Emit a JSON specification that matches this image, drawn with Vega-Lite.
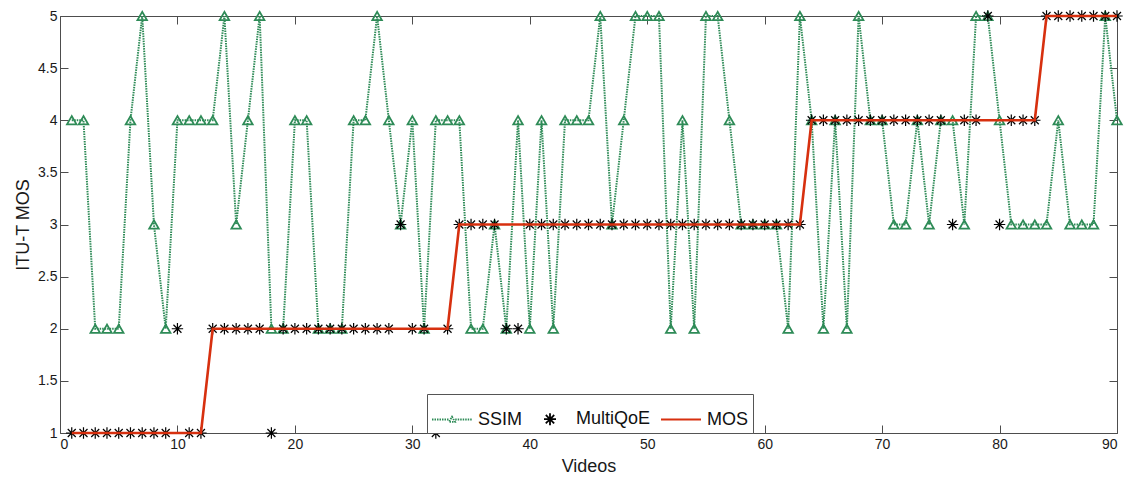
{
  "$schema": "https://vega.github.io/schema/vega-lite/v6.json",
  "width": 1057,
  "height": 417,
  "autosize": {"type": "none"},
  "padding": {"left": 60, "top": 16, "right": 7, "bottom": 46},
  "background": "white",
  "data": {"values": [
    {"v":1,"ssim":4,"mq":1,"mos":1},{"v":2,"ssim":4,"mq":1,"mos":1},{"v":3,"ssim":2,"mq":1,"mos":1},{"v":4,"ssim":2,"mq":1,"mos":1},{"v":5,"ssim":2,"mq":1,"mos":1},
    {"v":6,"ssim":4,"mq":1,"mos":1},{"v":7,"ssim":5,"mq":1,"mos":1},{"v":8,"ssim":3,"mq":1,"mos":1},{"v":9,"ssim":2,"mq":1,"mos":1},{"v":10,"ssim":4,"mq":2,"mos":1},
    {"v":11,"ssim":4,"mq":1,"mos":1},{"v":12,"ssim":4,"mq":1,"mos":1},{"v":13,"ssim":4,"mq":2,"mos":2},{"v":14,"ssim":5,"mq":2,"mos":2},{"v":15,"ssim":3,"mq":2,"mos":2},
    {"v":16,"ssim":4,"mq":2,"mos":2},{"v":17,"ssim":5,"mq":2,"mos":2},{"v":18,"ssim":2,"mq":1,"mos":2},{"v":19,"ssim":2,"mq":2,"mos":2},{"v":20,"ssim":4,"mq":2,"mos":2},
    {"v":21,"ssim":4,"mq":2,"mos":2},{"v":22,"ssim":2,"mq":2,"mos":2},{"v":23,"ssim":2,"mq":2,"mos":2},{"v":24,"ssim":2,"mq":2,"mos":2},{"v":25,"ssim":4,"mq":2,"mos":2},
    {"v":26,"ssim":4,"mq":2,"mos":2},{"v":27,"ssim":5,"mq":2,"mos":2},{"v":28,"ssim":4,"mq":2,"mos":2},{"v":29,"ssim":3,"mq":3,"mos":2},{"v":30,"ssim":4,"mq":2,"mos":2},
    {"v":31,"ssim":2,"mq":2,"mos":2},{"v":32,"ssim":4,"mq":1,"mos":2},{"v":33,"ssim":4,"mq":2,"mos":2},{"v":34,"ssim":4,"mq":3,"mos":3},{"v":35,"ssim":2,"mq":3,"mos":3},
    {"v":36,"ssim":2,"mq":3,"mos":3},{"v":37,"ssim":3,"mq":3,"mos":3},{"v":38,"ssim":2,"mq":2,"mos":3},{"v":39,"ssim":4,"mq":2,"mos":3},{"v":40,"ssim":2,"mq":3,"mos":3},
    {"v":41,"ssim":4,"mq":3,"mos":3},{"v":42,"ssim":2,"mq":3,"mos":3},{"v":43,"ssim":4,"mq":3,"mos":3},{"v":44,"ssim":4,"mq":3,"mos":3},{"v":45,"ssim":4,"mq":3,"mos":3},
    {"v":46,"ssim":5,"mq":3,"mos":3},{"v":47,"ssim":3,"mq":3,"mos":3},{"v":48,"ssim":4,"mq":3,"mos":3},{"v":49,"ssim":5,"mq":3,"mos":3},{"v":50,"ssim":5,"mq":3,"mos":3},
    {"v":51,"ssim":5,"mq":3,"mos":3},{"v":52,"ssim":2,"mq":3,"mos":3},{"v":53,"ssim":4,"mq":3,"mos":3},{"v":54,"ssim":2,"mq":3,"mos":3},{"v":55,"ssim":5,"mq":3,"mos":3},
    {"v":56,"ssim":5,"mq":3,"mos":3},{"v":57,"ssim":4,"mq":3,"mos":3},{"v":58,"ssim":3,"mq":3,"mos":3},{"v":59,"ssim":3,"mq":3,"mos":3},{"v":60,"ssim":3,"mq":3,"mos":3},
    {"v":61,"ssim":3,"mq":3,"mos":3},{"v":62,"ssim":2,"mq":3,"mos":3},{"v":63,"ssim":5,"mq":3,"mos":3},{"v":64,"ssim":4,"mq":4,"mos":4},{"v":65,"ssim":2,"mq":4,"mos":4},
    {"v":66,"ssim":4,"mq":4,"mos":4},{"v":67,"ssim":2,"mq":4,"mos":4},{"v":68,"ssim":5,"mq":4,"mos":4},{"v":69,"ssim":4,"mq":4,"mos":4},{"v":70,"ssim":4,"mq":4,"mos":4},
    {"v":71,"ssim":3,"mq":4,"mos":4},{"v":72,"ssim":3,"mq":4,"mos":4},{"v":73,"ssim":4,"mq":4,"mos":4},{"v":74,"ssim":3,"mq":4,"mos":4},{"v":75,"ssim":4,"mq":4,"mos":4},
    {"v":76,"ssim":4,"mq":3,"mos":4},{"v":77,"ssim":3,"mq":4,"mos":4},{"v":78,"ssim":5,"mq":4,"mos":4},{"v":79,"ssim":5,"mq":5,"mos":4},{"v":80,"ssim":4,"mq":3,"mos":4},
    {"v":81,"ssim":3,"mq":4,"mos":4},{"v":82,"ssim":3,"mq":4,"mos":4},{"v":83,"ssim":3,"mq":4,"mos":4},{"v":84,"ssim":3,"mq":5,"mos":5},{"v":85,"ssim":4,"mq":5,"mos":5},
    {"v":86,"ssim":3,"mq":5,"mos":5},{"v":87,"ssim":3,"mq":5,"mos":5},{"v":88,"ssim":3,"mq":5,"mos":5},{"v":89,"ssim":5,"mq":5,"mos":5},{"v":90,"ssim":4,"mq":5,"mos":5}
  ]},
  "resolve": {"scale": {"x": "independent", "y": "independent"}},
  "layer": [
    {
      "mark": {"type": "line", "color": "#2e8b57", "strokeWidth": 2, "strokeDash": [1.5, 1]},
      "encoding": {
        "x": {"field": "v", "type": "quantitative", "scale": {"domain": [0, 90], "nice": false, "zero": false},
          "axis": {"orient": "bottom", "values": [0,10,20,30,40,50,60,70,80,90], "title": "Videos", "labelPadding": 12, "titlePadding": 6}},
        "y": {"field": "ssim", "type": "quantitative", "scale": {"domain": [1, 5], "nice": false, "zero": false},
          "axis": {"orient": "left", "values": [1,1.5,2,2.5,3,3.5,4,4.5,5], "format": "~g", "title": "ITU-T MOS", "labelPadding": 11, "titlePadding": 5}}
      }
    },
    {
      "mark": {"type": "point", "shape": "triangle-up", "filled": false, "color": "#2e8b57", "strokeWidth": 1.8, "size": 90, "opacity": 1},
      "encoding": {
        "x": {"field": "v", "type": "quantitative", "scale": {"domain": [0, 90], "nice": false, "zero": false}, "axis": null},
        "y": {"field": "ssim", "type": "quantitative", "scale": {"domain": [1, 5], "nice": false, "zero": false}, "axis": null}
      }
    },
    {
      "mark": {"type": "point", "shape": "M0,-1V1M-1,0H1M-0.7,-0.7L0.7,0.7M-0.7,0.7L0.7,-0.7", "filled": false, "color": "#000000", "strokeWidth": 1.2, "size": 130, "opacity": 1},
      "encoding": {
        "x": {"field": "v", "type": "quantitative", "scale": {"domain": [0, 90], "nice": false, "zero": false}, "axis": null},
        "y": {"field": "mq", "type": "quantitative", "scale": {"domain": [1, 5], "nice": false, "zero": false}, "axis": null}
      }
    },
    {
      "mark": {"type": "line", "color": "#d7300f", "strokeWidth": 2.6},
      "encoding": {
        "x": {"field": "v", "type": "quantitative", "scale": {"domain": [0, 90], "nice": false, "zero": false},
          "axis": {"orient": "top", "values": [0,10,20,30,40,50,60,70,80,90], "labels": false, "title": null}},
        "y": {"field": "mos", "type": "quantitative", "scale": {"domain": [1, 5], "nice": false, "zero": false},
          "axis": {"orient": "right", "values": [1,1.5,2,2.5,3,3.5,4,4.5,5], "labels": false, "title": null}}
      }
    },
    {
      "transform": [{"filter": "datum.v < 0"}],
      "mark": {"type": "point", "filled": false, "strokeWidth": 1.8, "opacity": 1},
      "encoding": {
        "x": {"field": "v", "type": "quantitative", "scale": {"domain": [0, 90], "nice": false, "zero": false}, "axis": null},
        "y": {"field": "mos", "type": "quantitative", "scale": {"domain": [1, 5], "nice": false, "zero": false}, "axis": null},
        "color": {"field": "series", "type": "nominal",
          "scale": {"domain": ["SSIM", "MultiQoE", "MOS"], "range": ["#2e8b57", "#000000", "#d7300f"]},
          "legend": {"orient": "none", "legendX": 367, "legendY": 378, "direction": "horizontal", "title": null,
            "fillColor": "white", "strokeColor": "#555555", "padding": 4, "symbolSize": 1600, "symbolStrokeWidth": 1.8,
            "labelFont": "Liberation Sans", "labelFontSize": 18, "labelColor": "#111111", "labelOffset": 5, "columnPadding": 6}},
        "shape": {"field": "series", "type": "nominal",
          "scale": {"domain": ["SSIM", "MultiQoE", "MOS"], "range": [
            "M-1,0H-0.16M0.16,0H1M0,-0.14L0.15,0.12L-0.15,0.12Z",
            "M0,-0.3V0.3M-0.3,0H0.3M-0.21,-0.21L0.21,0.21M-0.21,0.21L0.21,-0.21",
            "M-1,0H1"]}},
        "strokeDash": {"field": "series", "type": "nominal",
          "scale": {"domain": ["SSIM", "MultiQoE", "MOS"], "range": [[1.5, 1], [1, 0], [1, 0]]}}
      }
    }
  ],
  "config": {
    "view": {"stroke": null},
    "axis": {
      "domainColor": "#4d4d4d", "tickColor": "#4d4d4d", "labelColor": "#1a1a1a", "titleColor": "#1a1a1a",
      "labelFont": "Liberation Sans", "titleFont": "Liberation Sans", "labelFontSize": 14, "titleFontSize": 18,
      "titleFontWeight": "normal", "grid": false, "tickSize": -8, "domainWidth": 1, "tickWidth": 1
    }
  }
}
